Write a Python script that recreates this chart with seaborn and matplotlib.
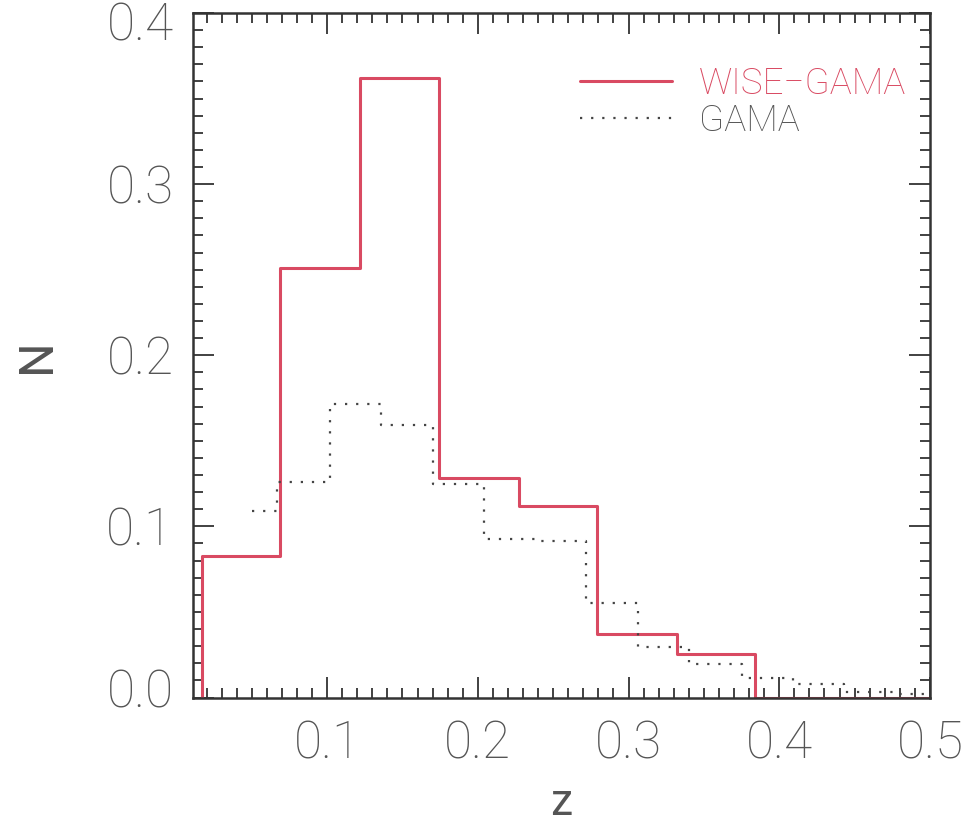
import numpy as np
import pandas as pd
import matplotlib
matplotlib.use("Agg")
import matplotlib.pyplot as plt
import matplotlib.transforms as mtransforms
import seaborn as sns
from matplotlib.ticker import MultipleLocator

# WISE-GAMA histogram (bin edges and normalised counts)
wise_edges = [0.017, 0.069, 0.122, 0.174, 0.227, 0.279, 0.332, 0.384, 0.5]
wise_vals = [0.0825, 0.251, 0.362, 0.128, 0.112, 0.037, 0.0254, 0.0]

# GAMA histogram (drawn from first bin centre)
gama_edges = [0.050, 0.067, 0.102, 0.136, 0.170, 0.204, 0.238, 0.272,
              0.306, 0.340, 0.375, 0.409, 0.443, 0.477, 0.5]
gama_vals = [0.109, 0.126, 0.1715, 0.1595, 0.125, 0.0925, 0.0915, 0.0553,
             0.0296, 0.0194, 0.0113, 0.0079, 0.003, 0.002]

x_ticks = [0.1, 0.2, 0.3, 0.4, 0.5]
y_ticks = [0.0, 0.1, 0.2, 0.3, 0.4]

RED = "#d94a62"
GREY = "#444444"

# step tables
wise_df = pd.DataFrame({
    "z": [wise_edges[0]] + wise_edges,
    "N": [0.0] + wise_vals + [wise_vals[-1]],
})
gama_df = pd.DataFrame({
    "z": gama_edges,
    "N": gama_vals + [gama_vals[-1]],
})

sns.set_style("ticks")
plt.rcParams["font.family"] = ["Roboto", "DejaVu Sans"]
plt.rcParams["font.weight"] = "light"

fig = plt.figure(figsize=(9.67, 8.23), dpi=100)
ax = fig.add_axes([193 / 967, 1 - 697.5 / 823, (930 - 193) / 967, (697.5 - 13) / 823])

sns.lineplot(data=wise_df, x="z", y="N", ax=ax, sort=False, estimator=None,
             drawstyle="steps-post", color=RED, lw=2.2, label="WISE\u2212GAMA")
sns.lineplot(data=gama_df, x="z", y="N", ax=ax, sort=False, estimator=None,
             drawstyle="steps-post", color=GREY, lw=1.6, label="GAMA",
             linestyle=(0, (1, 4)))

ax.set_xlim(0.011, 0.5)
ax.set_ylim(0.0, 0.399)
ax.set_xticks(x_ticks)
ax.set_yticks(y_ticks)
ax.set_xticklabels([f"{t:.1f}" for t in x_ticks])
ax.set_yticklabels([f"{t:.1f}" for t in y_ticks])
ax.xaxis.set_minor_locator(MultipleLocator(0.01))
ax.yaxis.set_minor_locator(MultipleLocator(0.01))

ax.tick_params(which="both", direction="in", top=True, right=True,
               color="#333333", width=1.3)
ax.tick_params(which="major", length=15, labelsize=37, labelcolor="#555555")
ax.tick_params(which="minor", length=7)
ax.tick_params(axis="x", which="major", pad=16)
ax.tick_params(axis="y", which="major", pad=14)

# nudge the end y labels inward, as in the reference
ylabs = ax.get_yticklabels()
ylabs[0].set_transform(ylabs[0].get_transform() +
                       mtransforms.ScaledTranslation(0, 9 / 100, fig.dpi_scale_trans))
ylabs[-1].set_transform(ylabs[-1].get_transform() +
                        mtransforms.ScaledTranslation(0, -8 / 100, fig.dpi_scale_trans))

for sp in ax.spines.values():
    sp.set_visible(True)
    sp.set_color("#333333")
    sp.set_linewidth(1.8)

ax.set_xlabel("z", fontsize=32, color="#555555", labelpad=9)
ax.set_ylabel("N", fontsize=35, color="#555555", labelpad=33)

leg = ax.legend(loc="upper right", bbox_to_anchor=(0.968, 0.923),
                frameon=False, fontsize=26.5, handlelength=2.5,
                handletextpad=0.75, labelspacing=0.04, borderpad=0,
                borderaxespad=0, labelcolor=[RED, "#555555"])

fig.savefig("out.png", dpi=100, facecolor="white")
